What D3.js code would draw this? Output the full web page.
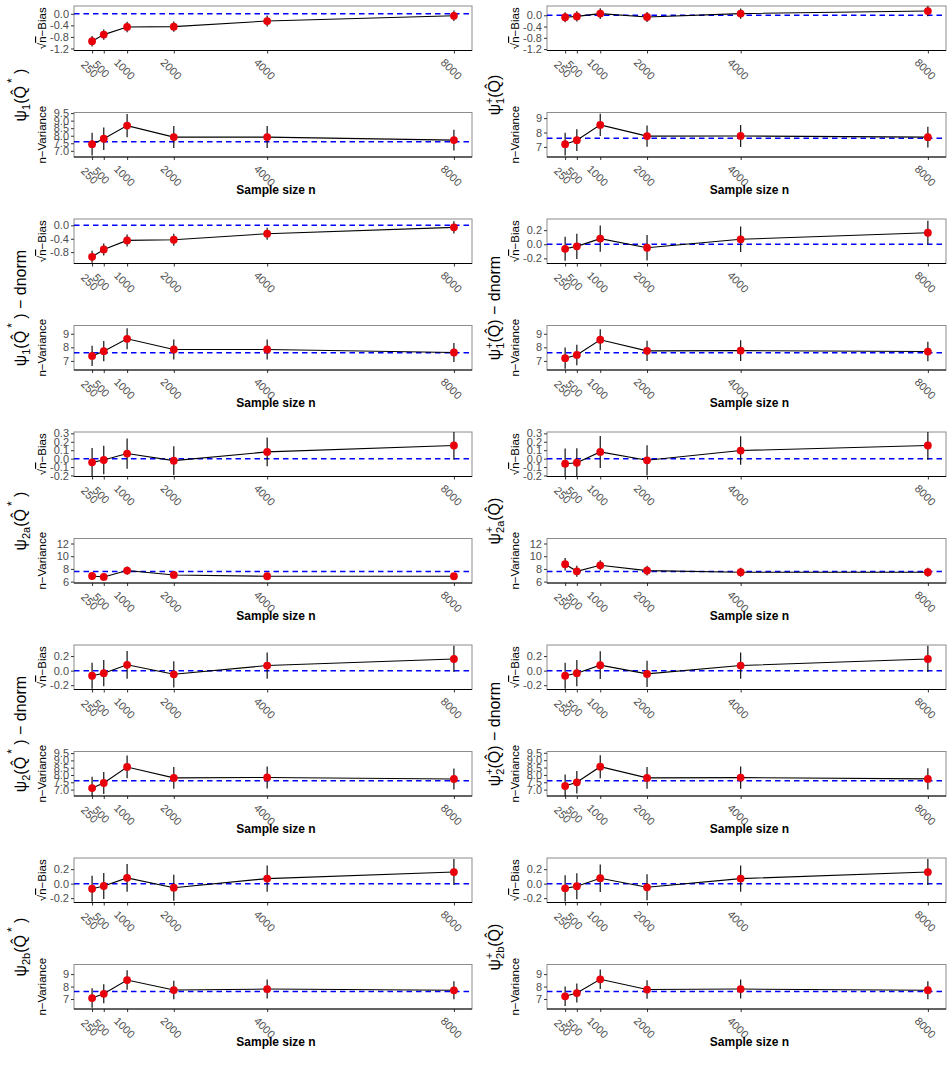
<!DOCTYPE html>
<html>
<head>
<meta charset="utf-8">
<script src="https://cdn.jsdelivr.net/npm/d3@7"></script>
<style>
  body { margin: 0; background: #fff; }
  svg { display: block; font-family: "Liberation Sans", Arial, Helvetica, sans-serif; }
</style>
</head>
<body>
<svg id="chart" width="952" height="1074"></svg>
<script>
// ── data: sample sizes and per-estimator results ──
const sampleSizes = [250, 500, 1000, 2000, 4000, 8000];

const psi1Star_bias      = [-0.95, -0.72, -0.455, -0.445, -0.25, -0.07];
const psi1Star_biasErr   = [0.18, 0.18, 0.18, 0.18, 0.19, 0.18];
const psi1Star_var       = [7.44, 7.80, 8.67, 7.91, 7.91, 7.71];
const psi1Star_varErr    = [0.75, 0.74, 0.77, 0.73, 0.73, 0.69];

const psi1Plus_bias      = [-0.07, -0.04, 0.06, -0.06, 0.06, 0.15];
const psi1Plus_biasErr   = [0.18, 0.18, 0.19, 0.18, 0.18, 0.18];
const psi1Plus_var       = [7.19, 7.47, 8.53, 7.75, 7.76, 7.68];
const psi1Plus_varErr    = [0.79, 0.76, 0.78, 0.74, 0.76, 0.72];

const psi1StarDn_bias    = [-0.94, -0.72, -0.45, -0.43, -0.25, -0.06];
const psi1StarDn_biasErr = [0.18, 0.18, 0.18, 0.18, 0.18, 0.18];
const psi1StarDn_var     = [7.37, 7.72, 8.63, 7.84, 7.84, 7.62];
const psi1StarDn_varErr  = [0.74, 0.75, 0.77, 0.74, 0.74, 0.70];

const psi1PlusDn_bias    = [-0.065, -0.03, 0.08, -0.05, 0.07, 0.163];
const psi1PlusDn_biasErr = [0.17, 0.18, 0.186, 0.18, 0.18, 0.17];
const psi1PlusDn_var     = [7.20, 7.44, 8.56, 7.74, 7.76, 7.69];
const psi1PlusDn_varErr  = [0.78, 0.76, 0.78, 0.74, 0.76, 0.72];

const psi2aStar_bias     = [-0.044, -0.016, 0.06, -0.024, 0.08, 0.156];
const psi2aStar_biasErr  = [0.17, 0.17, 0.18, 0.17, 0.17, 0.17];
const psi2aStar_var      = [6.88, 6.73, 7.74, 7.05, 6.84, 6.84];
const psi2aStar_varErr   = [0.60, 0.55, 0.65, 0.55, 0.50, 0.50];

const psi2aPlus_bias     = [-0.06, -0.048, 0.08, -0.02, 0.096, 0.156];
const psi2aPlus_biasErr  = [0.18, 0.17, 0.19, 0.18, 0.17, 0.17];
const psi2aPlus_var      = [8.73, 7.62, 8.57, 7.73, 7.47, 7.47];
const psi2aPlus_varErr   = [1.00, 0.87, 0.79, 0.76, 0.71, 0.71];

const psi2StarDn_bias    = [-0.07, -0.035, 0.08, -0.05, 0.07, 0.16];
const psi2StarDn_biasErr = [0.18, 0.18, 0.19, 0.18, 0.18, 0.18];
const psi2StarDn_var     = [7.10, 7.45, 8.55, 7.80, 7.83, 7.73];
const psi2StarDn_varErr  = [0.78, 0.76, 0.78, 0.74, 0.76, 0.72];

const psi2PlusDn_bias    = [-0.07, -0.035, 0.075, -0.045, 0.07, 0.16];
const psi2PlusDn_biasErr = [0.18, 0.18, 0.19, 0.18, 0.18, 0.18];
const psi2PlusDn_var     = [7.25, 7.50, 8.56, 7.80, 7.82, 7.73];
const psi2PlusDn_varErr  = [0.78, 0.76, 0.78, 0.74, 0.76, 0.72];

const psi2bStar_bias     = [-0.07, -0.032, 0.08, -0.056, 0.07, 0.16];
const psi2bStar_biasErr  = [0.18, 0.18, 0.19, 0.18, 0.18, 0.18];
const psi2bStar_var      = [7.08, 7.42, 8.52, 7.72, 7.80, 7.70];
const psi2bStar_varErr   = [0.78, 0.76, 0.78, 0.74, 0.76, 0.72];

const psi2bPlus_bias     = [-0.065, -0.035, 0.075, -0.05, 0.07, 0.16];
const psi2bPlus_biasErr  = [0.18, 0.18, 0.19, 0.18, 0.18, 0.18];
const psi2bPlus_var      = [7.22, 7.48, 8.58, 7.76, 7.80, 7.71];
const psi2bPlus_varErr   = [0.78, 0.76, 0.78, 0.74, 0.76, 0.72];

// reference lines
const biasTarget = 0;
const varTarget  = 7.6;

// tick sets
const ticksBiasWide  = [-1.2, -0.8, -0.4, 0];
const ticksBiasMid   = [-0.8, -0.4, 0];
const ticksBiasSmall = [-0.2, 0, 0.2];
const ticksBiasFine  = [-0.2, -0.1, 0, 0.1, 0.2, 0.3];
const ticksVarHalf   = [7, 7.5, 8, 8.5, 9, 9.5];
const ticksVarInt    = [7, 8, 9];
const ticksVarWide   = [6, 8, 10, 12];

// ═══════════════════════════════════════════
//  LAYOUT
// ═══════════════════════════════════════════
const svg = d3.select('#chart');
const cols = [{ x0: 74, x1: 472, lab: 26 }, { x0: 547, x1: 946, lab: 500 }];
const rowTop = i => 6 + i * 213;
const PH = 44.5;          // panel height
const VAR_OFF = 106.5;    // variance panel offset from bias panel

const fmt1 = v => v.toFixed(1);
const fmt0 = v => String(v);

// label parts: [text, kind] kind: n normal, sub, sup, back (sub stacked under sup), star
const rows = [
  [
    { label: [['ψ','n'],['1','sub'],['(Q\u0302','n'],['*','star'],[' )','n']],
      bias: psi1Star_bias, biasErr: psi1Star_biasErr, bDom: [-1.27, 0.27], bTicks: ticksBiasWide, bFmt: fmt1,
      vr: psi1Star_var, vrErr: psi1Star_varErr, vDom: [6.59, 9.54], vTicks: ticksVarHalf, vFmt: fmt1 },
    { label: [['ψ','n'],['+','sup'],['1','back'],['(Q\u0302)','n']],
      bias: psi1Plus_bias, biasErr: psi1Plus_biasErr, bDom: [-1.25, 0.33], bTicks: ticksBiasWide, bFmt: fmt1,
      vr: psi1Plus_var, vrErr: psi1Plus_varErr, vDom: [6.3, 9.39], vTicks: ticksVarInt, vFmt: fmt0 }
  ],
  [
    { label: [['ψ','n'],['1','sub'],['(Q\u0302','n'],['*','star'],[' ) \u2212 dnorm','n']],
      bias: psi1StarDn_bias, biasErr: psi1StarDn_biasErr, bDom: [-1.14, 0.19], bTicks: ticksBiasMid, bFmt: fmt1,
      vr: psi1StarDn_var, vrErr: psi1StarDn_varErr, vDom: [6.33, 9.61], vTicks: ticksVarInt, vFmt: fmt0 },
    { label: [['ψ','n'],['+','sup'],['1','back'],['(Q\u0302) \u2212 dnorm','n']],
      bias: psi1PlusDn_bias, biasErr: psi1PlusDn_biasErr, bDom: [-0.273, 0.358], bTicks: ticksBiasSmall, bFmt: fmt1,
      vr: psi1PlusDn_var, vrErr: psi1PlusDn_varErr, vDom: [6.33, 9.61], vTicks: ticksVarInt, vFmt: fmt0 }
  ],
  [
    { label: [['ψ','n'],['2a','sub'],['(Q\u0302','n'],['*','star'],[' )','n']],
      bias: psi2aStar_bias, biasErr: psi2aStar_biasErr, bDom: [-0.212, 0.316], bTicks: ticksBiasFine, bFmt: fmt1,
      vr: psi2aStar_var, vrErr: psi2aStar_varErr, vDom: [5.78, 12.79], vTicks: ticksVarWide, vFmt: fmt0 },
    { label: [['ψ','n'],['+','sup'],['2a','back'],['(Q\u0302)','n']],
      bias: psi2aPlus_bias, biasErr: psi2aPlus_biasErr, bDom: [-0.212, 0.316], bTicks: ticksBiasFine, bFmt: fmt1,
      vr: psi2aPlus_var, vrErr: psi2aPlus_varErr, vDom: [5.78, 12.79], vTicks: ticksVarWide, vFmt: fmt0 }
  ],
  [
    { label: [['ψ','n'],['2','sub'],['(Q\u0302','n'],['*','star'],[' ) \u2212 dnorm','n']],
      bias: psi2StarDn_bias, biasErr: psi2StarDn_biasErr, bDom: [-0.259, 0.352], bTicks: ticksBiasSmall, bFmt: fmt1,
      vr: psi2StarDn_var, vrErr: psi2StarDn_varErr, vDom: [6.56, 9.61], vTicks: ticksVarHalf, vFmt: fmt1 },
    { label: [['ψ','n'],['+','sup'],['2','back'],['(Q\u0302) \u2212 dnorm','n']],
      bias: psi2PlusDn_bias, biasErr: psi2PlusDn_biasErr, bDom: [-0.259, 0.352], bTicks: ticksBiasSmall, bFmt: fmt1,
      vr: psi2PlusDn_var, vrErr: psi2PlusDn_varErr, vDom: [6.57, 9.59], vTicks: ticksVarHalf, vFmt: fmt1 }
  ],
  [
    { label: [['ψ','n'],['2b','sub'],['(Q\u0302','n'],['*','star'],[' )','n']],
      bias: psi2bStar_bias, biasErr: psi2bStar_biasErr, bDom: [-0.26, 0.354], bTicks: ticksBiasSmall, bFmt: fmt1,
      vr: psi2bStar_var, vrErr: psi2bStar_varErr, vDom: [6.2, 9.77], vTicks: ticksVarInt, vFmt: fmt0 },
    { label: [['ψ','n'],['+','sup'],['2b','back'],['(Q\u0302)','n']],
      bias: psi2bPlus_bias, biasErr: psi2bPlus_biasErr, bDom: [-0.26, 0.354], bTicks: ticksBiasSmall, bFmt: fmt1,
      vr: psi2bPlus_var, vrErr: psi2bPlus_varErr, vDom: [6.2, 9.77], vTicks: ticksVarInt, vFmt: fmt0 }
  ]
];

let clipId = 0;

function drawPanel(col, y0, vals, errs, target, dom, ticks, fmt, title) {
  const y1 = y0 + PH;
  const x = d3.scaleLinear().domain([-137.5, 8387.5]).range([col.x0, col.x1]);
  const y = d3.scaleLinear().domain(dom).range([y1, y0]);
  const g = svg.append('g');

  const cid = 'clip' + (clipId++);
  g.append('clipPath').attr('id', cid)
    .append('rect').attr('x', col.x0).attr('y', y0).attr('width', col.x1 - col.x0).attr('height', PH);

  // panel border
  g.append('rect')
    .attr('x', col.x0).attr('y', y0).attr('width', col.x1 - col.x0).attr('height', PH)
    .attr('fill', 'none').attr('stroke', '#8c8c8c').attr('stroke-width', 1);

  const pts = sampleSizes.map((n, i) => ({ n, v: vals[i], e: errs[i] }));
  const inner = g.append('g').attr('clip-path', `url(#${cid})`);

  inner.append('line')
    .attr('x1', col.x0).attr('x2', col.x1)
    .attr('y1', y(target)).attr('y2', y(target))
    .attr('stroke', '#0000ff').attr('stroke-width', 1.5).attr('stroke-dasharray', '5.5,4');

  inner.selectAll('line.err').data(pts).join('line').attr('class', 'err')
    .attr('x1', d => x(d.n)).attr('x2', d => x(d.n))
    .attr('y1', d => y(d.v - d.e)).attr('y2', d => y(d.v + d.e))
    .attr('stroke', '#111').attr('stroke-width', 1.2);

  inner.append('path').datum(pts)
    .attr('d', d3.line().x(d => x(d.n)).y(d => y(d.v)))
    .attr('fill', 'none').attr('stroke', '#000').attr('stroke-width', 1.1);

  inner.selectAll('circle').data(pts).join('circle')
    .attr('cx', d => x(d.n)).attr('cy', d => y(d.v)).attr('r', 3.9)
    .attr('fill', '#e8000b');

  // axes
  const ya = g.append('g').attr('transform', `translate(${col.x0},0)`)
    .call(d3.axisLeft(y).tickValues(ticks).tickFormat(fmt).tickSize(3).tickPadding(2));
  ya.select('.domain').remove();
  ya.selectAll('line').attr('stroke', '#333');
  ya.selectAll('text').attr('fill', '#4d4d4d').attr('font-size', 11).attr('font-family', null);

  const xa = g.append('g').attr('transform', `translate(0,${y1})`)
    .call(d3.axisBottom(x).tickValues(sampleSizes).tickFormat(d => d).tickSize(3));
  xa.select('.domain').remove();
  xa.selectAll('line').attr('stroke', '#333');
  xa.selectAll('text')
    .attr('fill', '#4d4d4d').attr('font-size', 11).attr('font-family', null)
    .attr('y', null).attr('dy', null)
    .attr('text-anchor', 'middle').attr('dominant-baseline', 'central')
    .attr('transform', 'translate(-3,18.5) rotate(45)');

  g.append('line')
    .attr('x1', col.x0).attr('x2', col.x1).attr('y1', y1).attr('y2', y1)
    .attr('stroke', '#000').attr('stroke-width', 1.2);

  // y title
  const t = g.append('text')
    .attr('transform', `translate(${col.x0 - 28},${(y0 + y1) / 2}) rotate(-90)`)
    .attr('text-anchor', 'middle').attr('font-size', 11.5).attr('fill', '#000');
  if (title === 'bias') {
    t.append('tspan').text('√');
    t.append('tspan').style('text-decoration', 'overline').text('n');
    t.append('tspan').text('\u2212Bias');
  } else {
    t.text('n\u2212Variance');
  }
}

function drawLabel(col, cy, parts) {
  const t = svg.append('text')
    .attr('transform', `translate(${col.lab},${cy}) rotate(-90)`)
    .attr('text-anchor', 'middle').attr('font-size', 16).attr('fill', '#000');
  let off = 0;
  parts.forEach(([s, kind]) => {
    const sp = t.append('tspan').text(s);
    let target = 0, size = 16, dx = 0;
    if (kind === 'sub') { target = 4; size = 11; }
    if (kind === 'sup') { target = -7; size = 11; }
    if (kind === 'back') { target = 4; size = 11; dx = -6.4; }
    if (kind === 'star') { target = -10; size = 12; dx = 3; }
    sp.attr('font-size', size).attr('dy', target - off);
    if (dx) sp.attr('dx', dx);
    off = target;
  });
}

rows.forEach((row, i) => {
  const top = rowTop(i);
  row.forEach((p, c) => {
    const col = cols[c];
    drawPanel(col, top, p.bias, p.biasErr, biasTarget, p.bDom, p.bTicks, p.bFmt, 'bias');
    drawPanel(col, top + VAR_OFF, p.vr, p.vrErr, varTarget, p.vDom, p.vTicks, p.vFmt, 'var');
    svg.append('text')
      .attr('x', (col.x0 + col.x1) / 2 + 3).attr('y', top + 188)
      .attr('text-anchor', 'middle').attr('font-size', 12).attr('font-weight', 'bold')
      .text('Sample size n');
    drawLabel(col, top + 89, p.label);
  });
});
</script>
</body>
</html>
